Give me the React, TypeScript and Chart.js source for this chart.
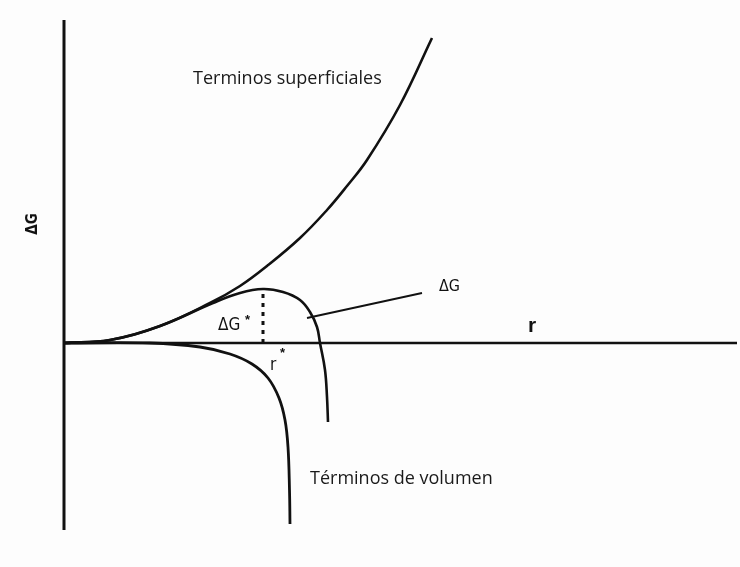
import React, { useEffect, useRef } from "react";
import { Chart, registerables } from "chart.js";

Chart.register(...registerables);

// Radius r (arbitrary units) and free energy ΔG (arbitrary units)
const surfaceR = [0, 0.92, 1.92, 2.92, 3.52, 4.06, 4.72, 5.26, 5.66, 6.06, 6.72, 7.36];
const surfaceG = [0, 0.06, 0.34, 0.8, 1.14, 1.54, 2.1, 2.66, 3.14, 3.66, 4.76, 6.1];

const totalR = [0, 0.92, 1.92, 2.98, 3.52, 3.98, 4.38, 4.72, 4.92, 5.06, 5.12, 5.22, 5.26, 5.28];
const totalG = [0, 0.06, 0.34, 0.8, 1.0, 1.08, 1.02, 0.86, 0.62, 0.32, 0, -0.54, -1.08, -1.58];

const volumeR = [0, 1.72, 2.72, 3.32, 3.76, 4.08, 4.3, 4.42, 4.48, 4.51, 4.52];
const volumeG = [0, 0, -0.08, -0.22, -0.42, -0.7, -1.1, -1.54, -2.08, -2.94, -3.62];

const rStar = 3.98;
const gStar = 1.08;

const leaderR = [4.86, 7.16];
const leaderG = [0.5, 1.0];

const axisYTop = 6.46;
const axisYBottom = -3.74;
const axisXEnd = 13.46;

const labelSurface = "Terminos superficiales";
const labelVolume = "Términos de volumen";
const labelR = "r";
const labelDG = "ΔG";

const pts = (xs: number[], ys: number[]) => xs.map((x, i) => ({ x, y: ys[i] }));

export default function App() {
  const ref = useRef<HTMLCanvasElement | null>(null);

  useEffect(() => {
    if (!ref.current) return;
    const black = "#111";
    const textPlugin = {
      id: "labels",
      afterDraw(chart: any) {
        const ctx = chart.ctx;
        const xs = chart.scales.x;
        const ys = chart.scales.y;
        const px = (v: number) => xs.getPixelForValue(v);
        const py = (v: number) => ys.getPixelForValue(v);
        ctx.save();
        ctx.fillStyle = "#1a1a1a";
        ctx.textBaseline = "middle";
        ctx.textAlign = "left";
        ctx.font = "18px 'Open Sans'";
        ctx.fillText(labelSurface, px(2.58), py(5.28));
        ctx.fillText(labelVolume, px(4.92), py(-2.72));
        ctx.fillStyle = black;
        ctx.font = "bold 21px 'Liberation Sans'";
        ctx.fillText(labelR, px(9.28), py(0.34));
        ctx.font = "17px 'DejaVu Sans Condensed'";
        ctx.fillText(labelDG, px(3.08), py(0.34));
        ctx.font = "bold 13px 'Liberation Sans'";
        ctx.fillText("*", px(3.62), py(0.46));
        ctx.font = "17px 'DejaVu Sans Condensed'";
        ctx.fillText("r", px(4.12), py(-0.46));
        ctx.font = "bold 13px 'Liberation Sans'";
        ctx.fillText("*", px(4.32), py(-0.2));
        ctx.font = "16px 'DejaVu Sans Condensed'";
        ctx.fillText(labelDG, px(7.5), py(1.12));
        ctx.translate(px(-0.62), py(2.38));
        ctx.rotate(-Math.PI / 2);
        ctx.textAlign = "center";
        ctx.font = "bold 15px 'DejaVu Sans Condensed'";
        ctx.fillText(labelDG, 0, 0);
        ctx.restore();
      },
    };
    const bg = {
      id: "bg",
      beforeDraw(chart: any) {
        const c = chart.ctx;
        c.save();
        c.fillStyle = "#fdfdfd";
        c.fillRect(0, 0, chart.width, chart.height);
        c.restore();
      },
    };
    const line = (data: any[], width: number, extra: any = {}) => ({
      data,
      showLine: true,
      borderColor: black,
      borderWidth: width,
      pointRadius: 0,
      fill: false,
      tension: 0.4,
      ...extra,
    });
    const chart = new Chart(ref.current, {
      type: "scatter",
      data: {
        datasets: [
          line(pts([0, 0], [axisYBottom, axisYTop]), 3, { tension: 0 }),
          line(pts([0, axisXEnd], [0, 0]), 2.5, { tension: 0 }),
          line(pts(surfaceR, surfaceG), 2.6),
          line(pts(totalR, totalG), 2.6),
          line(pts(volumeR, volumeG), 2.8),
          line(pts([rStar, rStar], [0, gStar]), 3, { tension: 0, borderDash: [4, 5] }),
          line(pts(leaderR, leaderG), 1.8, { tension: 0 }),
        ] as any,
      },
      options: {
        responsive: false,
        animation: false,
        layout: { padding: 0 },
        plugins: { legend: { display: false }, tooltip: { enabled: false } },
        scales: {
          x: { type: "linear", min: -1.28, max: 13.52, display: false },
          y: { type: "linear", min: -4.48, max: 6.86, display: false },
        },
      },
      plugins: [bg, textPlugin],
    } as any);
    return () => chart.destroy();
  }, []);

  return (
    <div style={{ position: "fixed", left: 0, top: 0, width: 740, height: 567 }}>
      <canvas ref={ref} width={740} height={567} />
    </div>
  );
}
